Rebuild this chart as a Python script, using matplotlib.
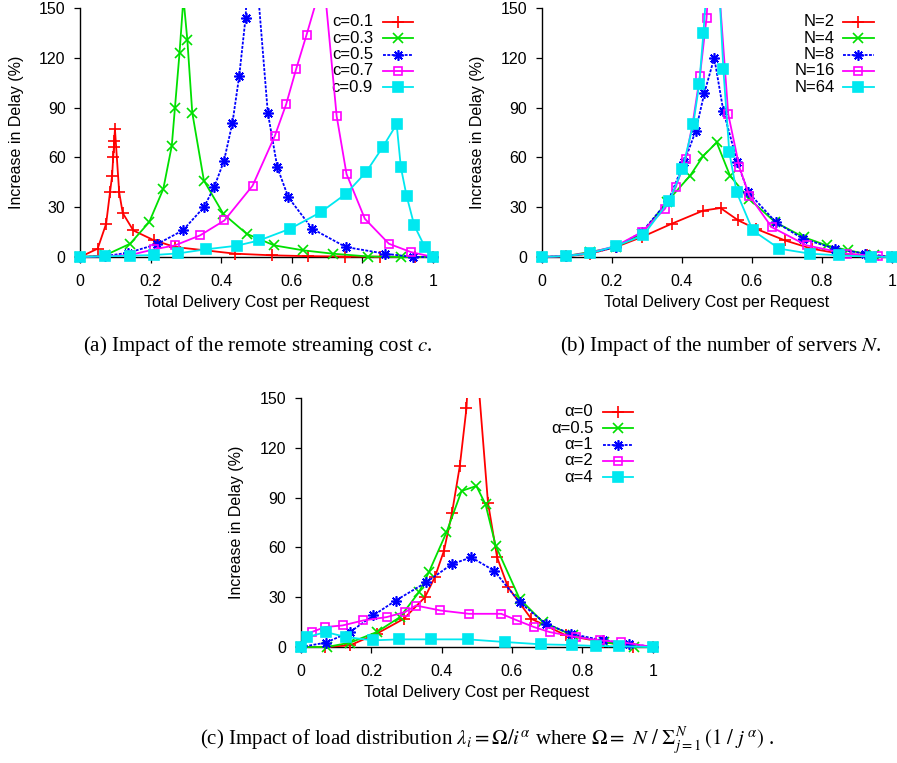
import matplotlib
matplotlib.use("Agg")
import matplotlib.pyplot as plt
from matplotlib.patches import Rectangle

plt.rcParams['font.family'] = ['Liberation Sans', 'DejaVu Sans']
plt.rcParams['mathtext.fontset'] = 'stix'

# -----------------------------
# data: (a) remote streaming cost c
# -----------------------------
c01_x = [0, 0.05, 0.074, 0.085, 0.091, 0.094, 0.096, 0.097, 0.099, 0.111, 0.121, 0.151, 0.21, 0.27, 0.44, 0.545, 0.647, 0.75, 0.85, 0.95, 1.0]
c01_y = [0, 5, 20, 39, 49, 60, 66, 70, 77, 39, 26.5, 16, 10, 6, 2, 1, 0.5, 0.3, 0.2, 0.1, 0]
c03_x = [0, 0.071, 0.142, 0.196, 0.236, 0.26, 0.269, 0.282, 0.293, 0.304, 0.318, 0.351, 0.406, 0.472, 0.55, 0.633, 0.716, 0.817, 0.91, 1.0]
c03_y = [0, 1, 8, 21, 41, 67, 90, 123, 156, 131, 87, 46, 26, 14, 7, 4, 2, 0.3, 0, 0]
c05_x = [0, 0.071, 0.137, 0.217, 0.291, 0.351, 0.38, 0.408, 0.432, 0.451, 0.469, 0.485, 0.532, 0.559, 0.59, 0.658, 0.753, 0.864, 0.944, 1.0]
c05_y = [0, 0.5, 2.6, 7.6, 16, 30, 42, 58, 81, 109, 144, 210, 87, 54, 36, 17, 6, 2, 0, 0]
c07_x = [0, 0.071, 0.142, 0.21, 0.269, 0.34, 0.409, 0.489, 0.552, 0.584, 0.612, 0.642, 0.69, 0.727, 0.755, 0.807, 0.875, 0.937, 1.0]
c07_y = [0, 0.5, 1.2, 4.6, 7, 13, 22, 43, 73, 92, 113, 134, 169, 85, 50, 23, 8, 3, 0]
c09_x = [0, 0.071, 0.142, 0.21, 0.279, 0.356, 0.444, 0.508, 0.595, 0.682, 0.753, 0.81, 0.857, 0.897, 0.909, 0.925, 0.947, 0.977, 1.0]
c09_y = [0, 0.4, 0.8, 1.2, 2.2, 4.6, 6.8, 10, 17, 27, 38, 51, 66, 80, 54, 37, 19, 6, 0]

# -----------------------------
# data: (b) number of servers N
# -----------------------------
n2_x = [0, 0.07, 0.138, 0.212, 0.286, 0.371, 0.462, 0.511, 0.562, 0.612, 0.695, 0.771, 0.852, 0.929, 1.0]
n2_y = [0, 0.4, 2, 6, 12, 20, 28, 29.5, 22, 17, 10, 5, 2, 1, 0]
n4_x = [0, 0.07, 0.138, 0.212, 0.286, 0.357, 0.424, 0.462, 0.5, 0.538, 0.593, 0.667, 0.748, 0.814, 0.876, 0.948, 1.0]
n4_y = [0, 0.6, 3, 6, 14, 33, 49, 61, 69, 49, 35, 21, 12, 7, 4, 1, 0]
n8_x = [0, 0.07, 0.138, 0.212, 0.286, 0.362, 0.407, 0.44, 0.465, 0.493, 0.519, 0.559, 0.59, 0.669, 0.746, 0.838, 0.924, 1.0]
n8_y = [0, 0.6, 2.2, 6, 15, 34, 57, 76, 99, 120, 88, 57, 39, 21, 11, 5, 2, 0]
n16_x = [0, 0.07, 0.138, 0.212, 0.286, 0.352, 0.383, 0.411, 0.431, 0.452, 0.471, 0.49, 0.533, 0.565, 0.593, 0.657, 0.757, 0.871, 0.962, 1.0]
n16_y = [0, 0.6, 2.6, 6.6, 15, 29, 42, 59, 80, 109, 144, 210, 86, 54, 37, 18, 7, 2, 0.4, 0]
n64_x = [0, 0.07, 0.138, 0.212, 0.29, 0.365, 0.402, 0.433, 0.45, 0.462, 0.492, 0.519, 0.536, 0.557, 0.603, 0.679, 0.767, 0.848, 0.941, 1.0]
n64_y = [0, 0.6, 2.2, 6.6, 13, 34, 53, 80, 104, 135, 225, 113, 63, 39, 16, 5, 2, 1, 0.2, 0]

# -----------------------------
# data: (c) load distribution alpha
# -----------------------------
a0_x = [0, 0.069, 0.14, 0.216, 0.293, 0.353, 0.381, 0.407, 0.43, 0.452, 0.471, 0.486, 0.532, 0.558, 0.589, 0.655, 0.754, 0.858, 0.945, 1.0]
a0_y = [0, 0, 1, 8, 17, 30, 42, 58, 81, 109, 144, 210, 87, 54, 36, 17, 7, 3, 0.2, 0]
a05_x = [0, 0.074, 0.14, 0.216, 0.282, 0.336, 0.364, 0.414, 0.457, 0.499, 0.525, 0.554, 0.622, 0.688, 0.773, 0.863, 0.948, 1.0]
a05_y = [0, 0, 2.6, 9, 18, 33, 45, 69, 94, 97, 86, 61, 29, 15, 7, 3, 0.2, 0]
a1_x = [0, 0.071, 0.14, 0.206, 0.27, 0.357, 0.43, 0.485, 0.549, 0.622, 0.696, 0.767, 0.858, 0.934, 1.0]
a1_y = [0, 2.6, 9, 19, 28, 39, 50, 54, 46, 27, 14, 8, 4, 2, 0]
a2_x = [0, 0.031, 0.069, 0.119, 0.178, 0.244, 0.296, 0.327, 0.397, 0.478, 0.57, 0.615, 0.663, 0.707, 0.783, 0.849, 0.91, 1.0]
a2_y = [0, 9, 12, 13, 16, 18, 21, 25, 22, 20, 20, 16, 12, 9, 6, 4, 3, 0]
a4_x = [0, 0.019, 0.071, 0.129, 0.206, 0.279, 0.371, 0.474, 0.581, 0.683, 0.77, 0.839, 0.905, 1.0]
a4_y = [0, 6, 9, 6, 4, 4.6, 4.6, 4.6, 3, 1.6, 1.2, 0.6, 0.4, 0]

x_ticks = [0, 0.2, 0.4, 0.6, 0.8, 1]
x_tick_labels = ["0", "0.2", "0.4", "0.6", "0.8", "1"]
y_ticks = [0, 30, 60, 90, 120, 150]

# gnuplot-like styles: colour, marker, size, fill, linestyle
STYLES = [
    dict(color='#ff0000', marker='+', ms=8, mfc='#ff0000', ls='-'),
    dict(color='#00e000', marker='x', ms=7, mfc='#00e000', ls='-'),
    dict(color='#0000ff', marker=(8, 2, 0), ms=7.5, mfc='#0000ff', ls=(0, (1.6, 0.8))),
    dict(color='#ff00ff', marker='s', ms=6, mfc='none', ls='-'),
    dict(color='#00e8f0', marker='s', ms=6.5, mfc='#00e8f0', ls='-'),
]

FS = 11.5
W, H = 897, 763
fig = plt.figure(figsize=(W / 100, H / 100), dpi=100)


def make_ax(left_px, bottom_px, width_px):
    ax = fig.add_axes([left_px / W, (H - bottom_px) / H, width_px / W, 249 / H])
    ax.set_xlim(0, 1)
    ax.set_ylim(0, 150)
    for s in ['top', 'right']:
        ax.spines[s].set_visible(False)
    for s in ['left', 'bottom']:
        ax.spines[s].set_linewidth(1.0)
    ax.set_xticks(x_ticks)
    ax.set_xticklabels(x_tick_labels)
    ax.set_yticks(y_ticks)
    ax.tick_params(direction='out', length=4.3, width=0.9, labelsize=FS, pad=6)
    ax.tick_params(axis='x', pad=8)
    ax.set_xlabel("Total Delivery Cost per Request", fontsize=FS)
    ax.set_ylabel("Increase in Delay (%)", fontsize=FS)
    ax.xaxis.set_label_coords(0.5, -0.153)
    ax.yaxis.set_label_coords(-56.5 / width_px, 0.5)
    return ax


def draw(ax, series, labels, text_x, line_x0, line_x1):
    clip = Rectangle((-0.05, -0.05), 1.1, 1.05, transform=ax.transAxes)
    for i, ((xs, ys), lab, st) in enumerate(zip(series, labels, STYLES)):
        ln, = ax.plot(xs, ys, color=st['color'], ls=st['ls'], lw=1.3,
                      marker=st['marker'], ms=st['ms'], mfc=st['mfc'],
                      mec=st['color'], mew=1.2, clip_on=True, zorder=3 + i)
        ln.set_clip_path(clip)
        # manual gnuplot-style key (text right-aligned, sample to the right)
        yk = 0.944 - i * 0.0655
        ax.text(text_x, yk, lab, transform=ax.transAxes, ha='right', va='center',
                fontsize=FS + 0.5)
        ax.plot([line_x0, (line_x0 + line_x1) / 2, line_x1], [yk, yk, yk],
                transform=ax.transAxes, color=st['color'], ls=st['ls'], lw=1.3,
                marker=st['marker'], ms=st['ms'], mfc=st['mfc'], mec=st['color'],
                mew=1.2, markevery=[1], clip_on=False, zorder=10)


ax_a = make_ax(80, 257, 353)
draw(ax_a,
     [(c01_x, c01_y), (c03_x, c03_y), (c05_x, c05_y), (c07_x, c07_y), (c09_x, c09_y)],
     ["c=0.1", "c=0.3", "c=0.5", "c=0.7", "c=0.9"],
     0.830, 0.858, 0.943)

ax_b = make_ax(541.7, 257, 350)
draw(ax_b,
     [(n2_x, n2_y), (n4_x, n4_y), (n8_x, n8_y), (n16_x, n16_y), (n64_x, n64_y)],
     ["N=2", "N=4", "N=8", "N=16", "N=64"],
     0.838, 0.862, 0.948)

ax_c = make_ax(300.7, 647, 352)
draw(ax_c,
     [(a0_x, a0_y), (a05_x, a05_y), (a1_x, a1_y), (a2_x, a2_y), (a4_x, a4_y)],
     ["\u03b1=0", "\u03b1=0.5", "\u03b1=1", "\u03b1=2", "\u03b1=4"],
     0.831, 0.860, 0.943)

# captions
cap_font = dict(family=['Liberation Serif', 'DejaVu Serif'], fontsize=15,
                ha='center', va='center')
fig.text(258 / W, 1 - 346 / H, r"(a) Impact of the remote streaming cost $c$.", **cap_font)
fig.text(721 / W, 1 - 346 / H, r"(b) Impact of the number of servers $N$.", **cap_font)
fig.text(487 / W, 1 - 741 / H,
         r"(c) Impact of load distribution $\lambda_i = \Omega/i^{\alpha}$ where "
         r"$\Omega =\ N\ /\ \Sigma_{j=1}^{N}\,(1\ /\ j^{\,\alpha})$ .", **cap_font)

fig.savefig("out.png", dpi=100)
